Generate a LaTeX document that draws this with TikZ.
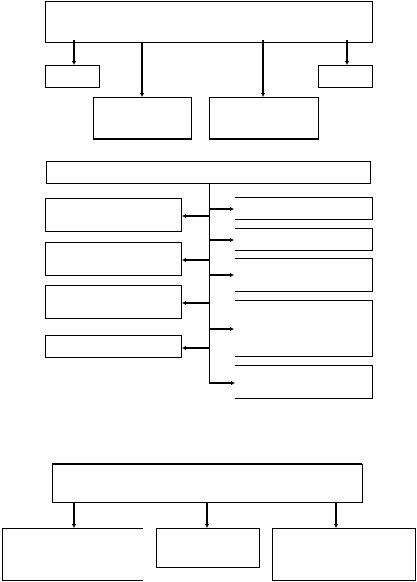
\documentclass[tikz,border=0pt]{standalone}
\usepackage{tikz}
\usetikzlibrary{arrows.meta}

\begin{document}
\begin{tikzpicture}[
    x=1pt, y=-1pt,
    box/.style={draw, line width=0.8pt, inner sep=0pt, outer sep=0pt, anchor=north west},
    open/.style={inner sep=0pt, outer sep=0pt, anchor=north west},
    edge/.style={line width=0.8pt},
    heavy/.style={line width=1.6pt},
    arrow/.style={-{Latex[length=4pt, width=4.5pt]}, line width=1.6pt},
    trunk/.style={line width=0.9pt}
  ]
    \useasboundingbox (0,0) rectangle (416,582);
    % upper block
    \node[box, minimum width=327pt, minimum height=41pt] (top) at (45,1) {};
    \node[box, minimum width=54pt, minimum height=22pt] (sl) at (45,65) {};
    \node[box, minimum width=54pt, minimum height=22pt] (sr) at (318,65) {};
    \node[box, minimum width=98pt, minimum height=42pt] (ml) at (93,97) {};
    \node[box, minimum width=109pt, minimum height=42pt] (mr) at (209,97) {};
    \draw[heavy] (ml.south west) -- (ml.south east);
    \draw[heavy] (mr.south west) -- (mr.south east);
    \draw[arrow] ([yshift=2pt]top.south -| 74,0) -- (sl.north -| 74,0);
    \draw[arrow] (top.south -| 142,0) -- (ml.north -| 142,0);
    \draw[arrow] ([yshift=2pt]top.south -| 263,0) -- (mr.north -| 263,0);
    \draw[arrow] ([yshift=2pt]top.south -| 347,0) -- (sr.north -| 347,0);
    % middle block
    \node[box, minimum width=324pt, minimum height=22pt] (hd) at (46,161) {};
    \coordinate (t) at (209,383);
    \draw[trunk] (hd.south -| t) -- (t);
    \node[box, minimum width=136pt, minimum height=33pt] (l1) at (45,198) {};
    \node[box, minimum width=136pt, minimum height=33pt] (l2) at (45,242) {};
    \node[box, minimum width=136pt, minimum height=33pt] (l3) at (45,285) {};
    \node[box, minimum width=136pt, minimum height=22pt] (l4) at (45,335) {};
    \node[open, minimum width=137pt, minimum height=22pt] (r1) at (235,197) {};
    \node[open, minimum width=137pt, minimum height=22pt] (r2) at (235,228) {};
    \node[open, minimum width=137pt, minimum height=33pt] (r3) at (235,258) {};
    \node[open, minimum width=137pt, minimum height=56pt] (r4) at (235,300) {};
    \node[open, minimum width=137pt, minimum height=33pt] (r5) at (235,365) {};
    \foreach \r in {r1,r2,r3,r4,r5}
      \draw[edge] (\r.north west) -- (\r.north east) -- (\r.south east) -- (\r.south west);
    \foreach \l/\y in {l1/216,l2/260,l3/303,l4/348}
      \draw[arrow] (t |- 0,\y) -- ([xshift=1pt]\l.east |- 0,\y);
    \foreach \r/\y in {r1/209,r2/240,r3/275,r4/329}
      \draw[arrow] (t |- 0,\y) -- ([xshift=-1pt]\r.west |- 0,\y);
    \draw[arrow] (t) -- (t -| r5.west);
    % lower block
    \node[box, minimum width=310pt, minimum height=38pt] (bh) at (52,464) {};
    \draw[heavy] (bh.north west) -- (bh.north east);
    \node[open, minimum width=141pt, minimum height=52pt] (b1) at (2,528) {};
    \draw[edge] (b1.north east) -- (b1.north west) -- (b1.south west) -- (b1.south east);
    \node[box, minimum width=103pt, minimum height=39pt] (b2) at (156,528) {};
    \node[box, minimum width=143pt, minimum height=52pt] (b3) at (272,528) {};
    \draw[arrow] (bh.south -| 74,0) -- (b1.north -| 74,0);
    \draw[arrow] (bh.south -| 207,0) -- (b2.north -| 207,0);
    \draw[arrow] (bh.south -| 336,0) -- (b3.north -| 336,0);
  \end{tikzpicture}
\end{document}
